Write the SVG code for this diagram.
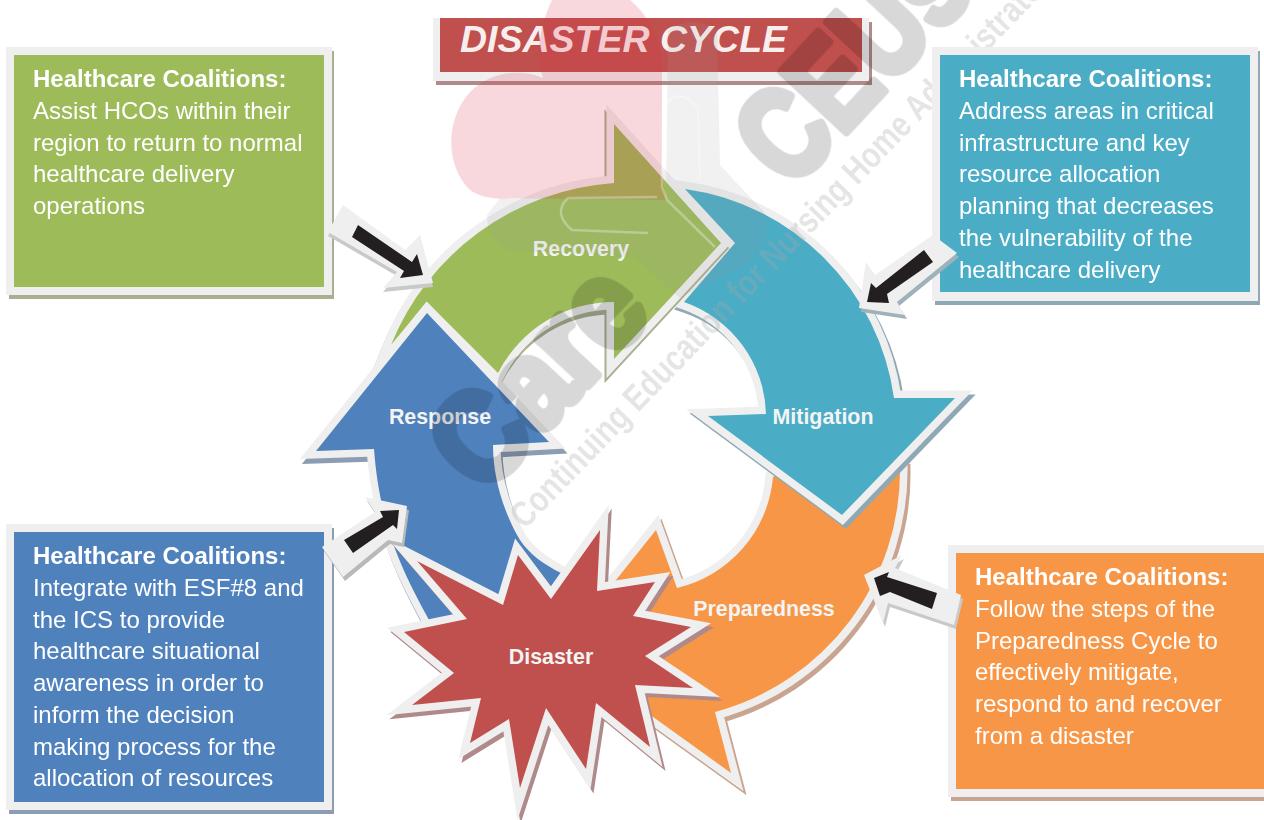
<svg xmlns="http://www.w3.org/2000/svg" width="1264" height="820" viewBox="0 0 1264 820">
<style>
.t{font-family:"Liberation Sans",Arial,sans-serif;fill:#fff}
.b{font-size:24px;font-weight:700}
.r{font-size:24px}
.l{font-size:21.4px;font-weight:700;text-anchor:middle;fill:#f4f4f4}
.bd{fill:#efefef;stroke:#efefef;stroke-width:15;stroke-linejoin:miter;stroke-miterlimit:30}
.sh{stroke-width:15;stroke-linejoin:miter;stroke-miterlimit:30}
.wm{font-family:"Liberation Sans",Arial,sans-serif;font-weight:700;fill:#000;stroke:#000;stroke-width:9;stroke-linejoin:round;font-size:128px}
.cb{fill:#efefef}
.ck{fill:#231f20}
</style>
<defs>
<path id="pO" d="M773,477L800,465L900,467A250,250 0 0 1 715,712L731,773L560,650L656,530L677,588A125,125 0 0 0 773,477Z"/>
<path id="pC" d="M685,189A245,245 0 0 1 894,398L955,398L842,515L708,416L766,414A122,122 0 0 0 684,302L735,243Z"/>
<path id="pG" d="M614,183L614,124L721,243L614,359L614,302A130,130 0 0 0 498,373L427,302L391,345A260,260 0 0 1 614,183Z"/>
<path id="pB" d="M427,313L549,442L493,445C493,480 505,515 520,540C530,555 545,565 561,573L530,640L452,618L429,620C405,575 380,530 374,449L316,451Z"/>
<path id="pS" d="M600,530L597,591L655,582L633,616L691,627L645,656L693,688L635,685L650,747L596,703L586,769L546,708L520,788L509,719L470,743L481,698L412,705L454,673L404,632L467,619L417,561L503,605L518,555L551,599Z"/>
</defs>

<g id="node-preparedness">
<use href="#pO" class="sh" x="3" y="4" fill="#c9a48f" stroke="#c9a48f"/>
<use href="#pO" class="bd"/>
<use href="#pO" fill="#f79646"/>
<text class="t l" x="764" y="616">Preparedness</text>
</g>
<g id="node-mitigation">
<use href="#pC" class="sh" x="3" y="4" fill="#8fa9b4" stroke="#8fa9b4"/>
<use href="#pC" class="bd"/>
<use href="#pC" fill="#4aacc5"/>
<text class="t l" x="823" y="424">Mitigation</text>
</g>
<g id="node-recovery">
<use href="#pG" class="sh" x="-2" y="5" fill="#a8b090" stroke="#a8b090"/>
<use href="#pG" class="bd"/>
<use href="#pG" fill="#9dbb59"/>
<text class="t l" x="581" y="256">Recovery</text>
</g>
<g id="node-response">
<use href="#pB" class="sh" x="2" y="5" fill="#8c9cb3" stroke="#8c9cb3"/>
<use href="#pB" class="bd"/>
<use href="#pB" fill="#4f81bd"/>
<text class="t l" x="440" y="424">Response</text>
</g>
<g id="node-disaster">
<use href="#pS" class="sh" x="3" y="4" fill="#b08a8a" stroke="#b08a8a"/>
<use href="#pS" class="bd"/>
<use href="#pS" fill="#c0504d"/>
<text class="t l" x="551" y="664">Disaster</text>
</g>
<g id="node-title">
<rect x="436" y="22" width="436" height="63" fill="#b08a8a"/>
<rect x="433" y="18" width="436" height="63" fill="#efefef"/>
<rect x="440" y="18" width="422" height="54" fill="#c0504d"/>
<text class="t" x="460" y="52" style="font-size:37.5px;font-weight:700;font-style:italic" fill-opacity=".92">DISASTER CYCLE</text>
</g>

<g id="watermark">
<path d="M552,0C540,25 535,55 543,78C520,68 490,72 470,92C445,120 445,165 470,190C480,197 495,200 510,198L666,200L662,170L662,60Q655,20 630,0Z" fill="#dc3246" fill-opacity=".19"/>
<path d="M668,30Q692,14 717,30L720,165L765,213Q775,240 745,265L680,298L635,257L510,250Q487,240 487,215L500,198L666,197Z" fill="#999" fill-opacity=".14"/>
<path d="M700,180L698,108Q678,84 663,108L662,187L667,200L715,247M657,197L568,198Q552,213 572,230L648,233" fill="none" stroke="#fff" stroke-opacity=".3" stroke-width="2.5"/>
<g opacity=".155">
<text class="wm" transform="translate(791,191) rotate(-47)" textLength="300" lengthAdjust="spacingAndGlyphs">CEUs.</text>
<text class="wm" transform="translate(484,497) rotate(-47)" textLength="250" lengthAdjust="spacingAndGlyphs">Care</text>
</g>
<text transform="translate(525,530) rotate(-46)" style="font-family:'Liberation Sans',Arial,sans-serif;font-weight:700;font-size:36px;fill:#aaa;fill-opacity:.3" textLength="775" lengthAdjust="spacingAndGlyphs">Continuing Education for Nursing Home Administrators</text>
</g>

<g id="node-box-recovery">
<rect x="9" y="51" width="325" height="248" fill="#a8b090"/>
<rect x="6" y="47" width="326" height="248" fill="#efefef"/>
<rect x="14" y="55" width="310" height="232" fill="#9dbb59"/>
<text class="t b" x="33" y="87">Healthcare Coalitions:</text>
<text class="t r"><tspan x="33" y="119">Assist HCOs within their</tspan><tspan x="33" y="151">region to return to normal</tspan><tspan x="33" y="182">healthcare delivery</tspan><tspan x="33" y="214">operations</tspan></text>
</g>
<g id="node-box-mitigation">
<rect x="935" y="51" width="325" height="254" fill="#8fa9b4"/>
<rect x="932" y="47" width="326" height="254" fill="#efefef"/>
<rect x="940" y="55" width="310" height="237" fill="#4aacc5"/>
<text class="t b" x="959" y="87">Healthcare Coalitions:</text>
<text class="t r"><tspan x="959" y="119">Address areas in critical</tspan><tspan x="959" y="151">infrastructure and key</tspan><tspan x="959" y="182">resource allocation</tspan><tspan x="959" y="214">planning that decreases</tspan><tspan x="959" y="246">the vulnerability of the</tspan><tspan x="959" y="278">healthcare delivery</tspan></text>
</g>
<g id="node-box-response">
<rect x="9" y="528" width="325" height="286" fill="#8c9cb3"/>
<rect x="6" y="524" width="326" height="286" fill="#efefef"/>
<rect x="14" y="532" width="310" height="270" fill="#4f81bd"/>
<text class="t b" x="33" y="564">Healthcare Coalitions:</text>
<text class="t r"><tspan x="33" y="596">Integrate with ESF#8 and</tspan><tspan x="33" y="628">the ICS to provide</tspan><tspan x="33" y="659">healthcare situational</tspan><tspan x="33" y="691">awareness in order to</tspan><tspan x="33" y="723">inform the decision</tspan><tspan x="33" y="755">making process for the</tspan><tspan x="33" y="786">allocation of resources</tspan></text>
</g>
<g id="node-box-preparedness">
<rect x="951" y="549" width="313" height="252" fill="#c9a48f"/>
<rect x="948" y="545" width="316" height="252" fill="#efefef"/>
<rect x="956" y="553" width="308" height="236" fill="#f79646"/>
<text class="t b" x="975" y="585">Healthcare Coalitions:</text>
<text class="t r"><tspan x="975" y="617">Follow the steps of the</tspan><tspan x="975" y="649">Preparedness Cycle to</tspan><tspan x="975" y="680">effectively mitigate,</tspan><tspan x="975" y="712">respond to and recover</tspan><tspan x="975" y="744">from a disaster</tspan></text>
</g>

<g id="connectors">
<g>
<polygon points="328,232 397,272 383,288 433,283 420,235 405,250 343,205" fill="#c9c9c9" transform="translate(0,4)"/>
<polygon class="cb" points="343,205 405,250 420,235 433,283 383,288 397,272 328,232"/>
<polygon class="ck" points="358,225 412,262 417,254 423,275 400,278 404,271 352,237"/>
</g>
<g>
<polygon points="957,253 897,302 905,315 859,308 866,262 875,275 933,235" fill="#9fb2b9" transform="translate(2,4)"/>
<polygon class="cb" points="933,235 957,253 897,302 905,315 859,308 866,262 875,275"/>
<polygon class="ck" points="924,250 933,262 887,294 889,303 867,302 871,283 876,288"/>
</g>
<g>
<polygon points="322,547 375,512 365,497 407,506 402,543 388,540 343,577" fill="#b9b9b9" transform="translate(2,4)"/>
<polygon class="cb" points="322,547 375,512 365,497 407,506 402,543 388,540 343,577"/>
<polygon class="ck" points="344,540 353,553 393,525 397,529 399,510 380,511 383,517"/>
</g>
<g>
<polygon points="961,595 954,625 888,603 883,623 864,575 902,555 895,568" fill="#c9c9c9" transform="translate(2,4)"/>
<polygon class="cb" points="961,595 954,625 888,603 883,623 864,575 902,555 895,568"/>
<polygon class="ck" points="937,593 932,609 890,592 880,596 874,578 889,572 887,577"/>
</g>
</g>
</svg>
